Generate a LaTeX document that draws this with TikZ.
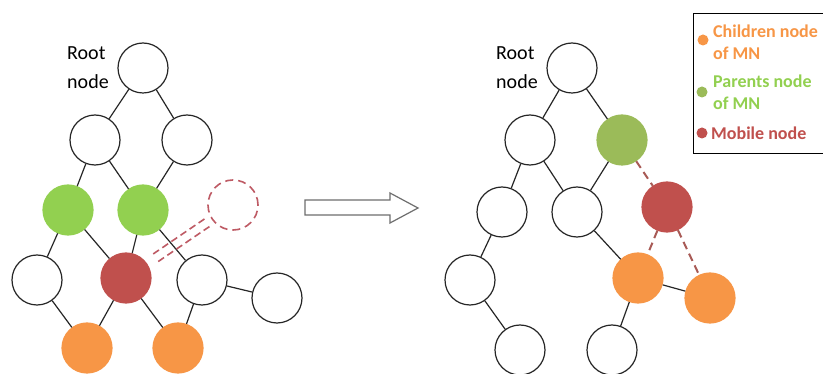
\documentclass[tikz,border=0pt]{standalone}
\usepackage{fontspec}
\setmainfont{Carlito}
\usetikzlibrary{calc}
\definecolor{lgreen}{HTML}{92D050}
\definecolor{rgreen}{HTML}{9BBB59}
\definecolor{mnred}{HTML}{C0504D}
\definecolor{chorange}{HTML}{F79646}
\definecolor{ghostred}{HTML}{BE5A64}
\definecolor{linkred}{HTML}{A85A55}
\definecolor{arrowgray}{HTML}{6E6E6E}
\tikzset{
  nd/.style={circle, minimum size=50pt, inner sep=0pt, draw=black!85, line width=1.2pt, fill=white},
  par/.style={nd, fill=#1, draw=#1},
  par/.default=lgreen,
  mob/.style={nd, fill=mnred, draw=mnred},
  chi/.style={nd, fill=chorange, draw=chorange},
  ghost/.style={nd, draw=ghostred, dash pattern=on 8pt off 5pt, line width=1.6pt, fill=none},
  edge/.style={draw=black!85, line width=1.2pt},
  mlink/.style={draw=linkred, line width=2pt, dash pattern=on 8pt off 5pt},
  blink/.style={draw=ghostred, line width=1.6pt, dash pattern=on 7pt off 4pt},
  lbl/.style={font=\fontsize{20pt}{29pt}\selectfont, align=left, inner sep=0pt},
  leg/.style={font=\fontsize{18pt}{22pt}\selectfont\bfseries, align=left, anchor=west, inner sep=0pt},
  dot/.style={circle, minimum size=11pt, inner sep=0pt, fill=#1, draw=none},
}
\begin{document}
\begin{tikzpicture}[x=1pt, y=-1pt]
\useasboundingbox (0,0) rectangle (823,374);
\clip (0,0) rectangle (823,374);
\fill[white] (0,0) rectangle (823,374);

% ---- tree before the move ----
\node[lbl] (lrootlbl) at (88,68) {Root\\node};
\node[nd] (lr) at (143,68) {};
\node[nd] (la) at (95,140) {};
\node[nd] (lb) at (187,140) {};
\node[par] (lp1) at (68,210) {};
\node[par] (lp2) at (143,210) {};
\node[ghost] (lg) at (233,205) {};
\node[nd] (lc) at (37,280) {};
\node[mob] (lm) at (126,278) {};
\node[nd] (ld) at (202,280) {};
\node[nd] (le) at (277,298) {};
\node[chi] (lo1) at (87,348) {};
\node[chi] (lo2) at (178,348) {};

\draw[edge] (lr) -- (la);
\draw[edge] (lr) -- (lb);
\draw[edge] (la) -- (lp1);
\draw[edge] (la) -- (lp2);
\draw[edge] (lb) -- (lp2);
\draw[edge] (lp1) -- (lc);
\draw[edge] (lp1) -- (lm);
\draw[edge] (lp2) -- (lm);
\draw[edge] (lp2) -- (ld);
\draw[edge] (ld) -- (le);
\draw[edge] (lc) -- (lo1);
\draw[edge] (lm) -- (lo1);
\draw[edge] (lm) -- (lo2);
\draw[edge] (ld) -- (lo2);

% broken link towards the former position
\draw[blink, shorten <=36pt, shorten >=30pt] ([shift={(-2.5,-3.8)}]lm.center) -- ([shift={(-2.5,-3.8)}]lg.center);
\draw[blink, shorten <=36pt, shorten >=30pt] ([shift={(2.5,3.8)}]lm.center) -- ([shift={(2.5,3.8)}]lg.center);

% ---- transition arrow ----
\draw[arrowgray, line width=1.2pt, line join=miter, fill=white]
  (305,200) -- (390,200) -- (390,193) -- (418,208) -- (390,223) -- (390,215) -- (305,215) -- cycle;

% ---- tree after the move ----
\node[lbl] (rrootlbl) at (517,68) {Root\\node};
\node[nd] (rr) at (572,68) {};
\node[nd] (ra) at (530,140) {};
\node[par=rgreen] (rp) at (622,140) {};
\node[nd] (rb) at (502,212) {};
\node[nd] (rc) at (577,212) {};
\node[mob] (rm) at (667,207) {};
\node[nd] (rd) at (470,280) {};
\node[chi] (ro1) at (638,278) {};
\node[chi] (ro2) at (710,298) {};
\node[nd] (rf) at (520,350) {};
\node[nd] (rg) at (612,350) {};

\draw[edge] (rr) -- (ra);
\draw[edge] (rr) -- (rp);
\draw[edge] (ra) -- (rb);
\draw[edge] (ra) -- (rc);
\draw[edge] (rp) -- (rc);
\draw[edge] (rb) -- (rd);
\draw[edge] (rc) -- (ro1);
\draw[edge] (ro1) -- (ro2);
\draw[edge] (rd) -- (rf);
\draw[edge] (ro1) -- (rg);
\draw[mlink] (rp) -- (rm);
\draw[mlink] (rm) -- (ro1);
\draw[mlink] (rm) -- (ro2);

% ---- legend ----
\node[draw=black, line width=1.2pt, minimum width=170pt, minimum height=140pt, anchor=north west, inner sep=0pt] (legbox) at (693,13) {};
\node[dot=chorange] (d1) at (703,40) {};
\node[leg, text=chorange] (t1) at (713,42) {Children node\\of MN};
\node[dot=rgreen] (d2) at (702,92) {};
\node[leg, text=lgreen] (t2) at (713,92) {Parents node\\of MN};
\node[dot=mnred] (d3) at (702,133) {};
\node[leg, text=mnred] (t3) at (711,133) {Mobile node};
\end{tikzpicture}
\end{document}
